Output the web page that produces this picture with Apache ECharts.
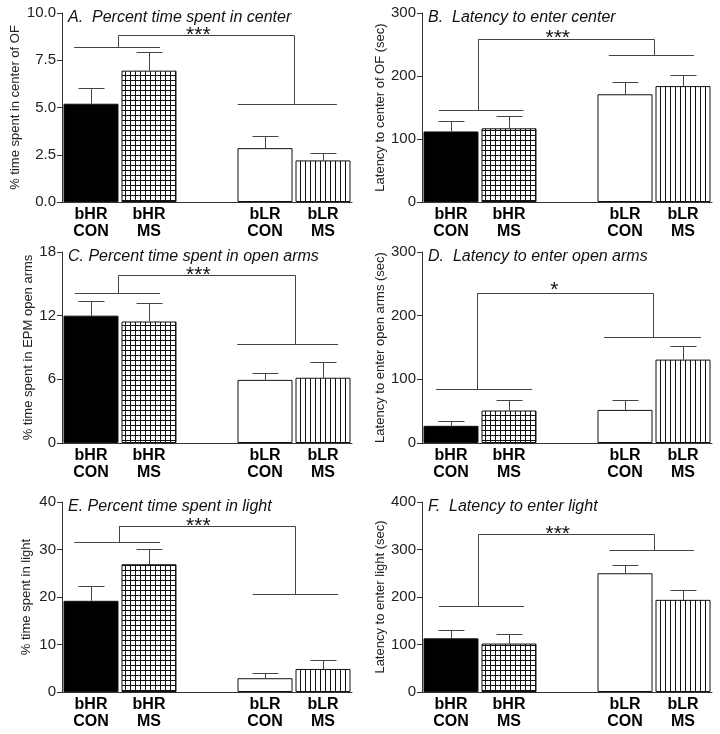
<!DOCTYPE html>
<html><head><meta charset="utf-8">
<script src="https://cdn.jsdelivr.net/npm/echarts@6/dist/echarts.min.js"></script>
<style>html,body{margin:0;padding:0;background:#fff}#c{width:720px;height:734px}</style>
</head><body><div id="c"></div>
<script>
// ---------- data ----------
const categories = ['bHR\nCON', 'bHR\nMS', '', 'bLR\nCON', 'bLR\nMS'];
const panelTitles = [
  'A.  Percent time spent in center',
  'B.  Latency to enter center',
  'C. Percent time spent in open arms',
  'D.  Latency to enter open arms',
  'E. Percent time spent in light',
  'F.  Latency to enter light'
];
const yNames = [
  '% time spent in center of OF',
  'Latency to center of OF (sec)',
  '% time spent in EPM open arms',
  'Latency to enter open arms (sec)',
  '% time spent in light',
  'Latency to enter light (sec)'
];
const yMax = [10, 300, 18, 300, 40, 400];
const yStep = [2.5, 100, 6, 100, 10, 100];

// means for bHR CON, bHR MS, (gap), bLR CON, bLR MS
const meanA = [5.2, 6.95, '-', 2.85, 2.2];
const semA  = [0.85, 1.0, 0, 0.65, 0.4];
const meanB = [112, 117, '-', 171, 184];
const semB  = [17, 19, 0, 20, 18];
const meanC = [12.0, 11.45, '-', 5.95, 6.15];
const semC  = [1.4, 1.75, 0, 0.65, 1.5];
const meanD = [27, 51, '-', 52, 131];
const semD  = [8, 16, 0, 16, 21];
const meanE = [19.2, 26.9, '-', 2.9, 4.85];
const semE  = [3.2, 3.3, 0, 1.1, 1.8];
const meanF = [113, 102, '-', 250, 194];
const semF  = [18, 21, 0, 17, 21];

// significance brackets: [hrY, hrX1, hrX2, topY, topX1, topX2, lrY, lrX1, lrX2, starX, starY, label]
const bracketA = [8.19, -0.29, 1.19, 8.84, 0.47, 3.5, 5.18, 2.53, 4.24, 1.85, 9.02, '***'];
const bracketB = [146, -0.21, 1.25, 259, 0.47, 3.5, 234, 2.72, 4.19, 1.84, 265.8, '***'];
const bracketC = [14.17, -0.28, 1.19, 15.8, 0.47, 3.52, 9.3, 2.52, 4.26, 1.85, 16.2, '***'];
const bracketD = [84.8, -0.26, 1.40, 235.7, 0.45, 3.49, 166, 2.64, 4.31, 1.78, 247, '*'];
const bracketE = [31.5, -0.29, 1.19, 35, 0.48, 3.52, 20.6, 2.79, 4.26, 1.85, 35.85, '***'];
const bracketF = [181.8, -0.21, 1.26, 332, 0.47, 3.5, 298.7, 2.73, 4.19, 1.84, 339.6, '***'];

const means = [meanA, meanB, meanC, meanD, meanE, meanF];
const sems = [semA, semB, semC, semD, semE, semF];
const brackets = [bracketA, bracketB, bracketC, bracketD, bracketE, bracketF];

// ---------- styling ----------
const FONT = "'Liberation Sans', Arial, Helvetica, sans-serif";
const LINE = '#444';
const gridLeft = [62, 422];
const gridTop = [13, 252, 502];
const gridH = [189, 191, 190];
const gridW = 290;
const nameGaps = [40, 32, 27, 32, 29, 33];

function makePattern(grid) {
  const c = document.createElement('canvas');
  c.width = 5; c.height = 5;
  const g = c.getContext('2d');
  g.fillStyle = '#fff'; g.fillRect(0, 0, 5, 5);
  g.fillStyle = '#111';
  g.fillRect(0, 0, 1, 5);
  if (grid) g.fillRect(0, 0, 5, 1);
  return c;
}
const gridPat = { image: makePattern(true), repeat: 'repeat' };
const stripePat = { image: makePattern(false), repeat: 'repeat' };
const barFills = ['#000', gridPat, '#fff', '#fff', stripePat];

const px = v => Math.round(v) + 0.5;

const grids = [], xAxes = [], yAxes = [], series = [], titles = [];
for (let i = 0; i < 6; i++) {
  const col = i % 2, row = Math.floor(i / 2);
  grids.push({ left: gridLeft[col], top: gridTop[row], width: gridW, height: gridH[row] });
  titles.push({
    text: panelTitles[i], left: gridLeft[col] + 6, top: gridTop[row] - 3, padding: 0,
    textStyle: { fontFamily: FONT, fontSize: 16, fontStyle: 'italic', fontWeight: 'normal', color: '#111' }
  });
  xAxes.push({
    type: 'category', gridIndex: i, data: categories,
    axisLine: { onZero: false, lineStyle: { color: '#333', width: 1 } },
    axisTick: { show: false },
    axisLabel: { interval: 0, fontFamily: FONT, fontSize: 16, fontWeight: 'bold', color: '#000', lineHeight: 17, margin: 4 }
  });
  yAxes.push({
    type: 'value', gridIndex: i, min: 0, max: yMax[i], interval: yStep[i],
    name: yNames[i], nameLocation: 'middle', nameRotate: 90, nameGap: nameGaps[i],
    nameTextStyle: { fontFamily: FONT, fontSize: 13, color: '#222' },
    axisLine: { show: true, onZero: false, lineStyle: { color: '#333', width: 1 } },
    axisTick: { show: true, length: 5, lineStyle: { color: '#333' } },
    splitLine: { show: false },
    axisLabel: {
      fontFamily: FONT, fontSize: 15, color: '#222', margin: 6,
      formatter: v => (yStep[i] % 1 !== 0 ? v.toFixed(1) : String(v))
    }
  });
}
// hidden value x axes for annotations
for (let i = 0; i < 6; i++) {
  xAxes.push({ type: 'value', gridIndex: i, min: -0.5, max: 4.5, show: false });
}

for (let i = 0; i < 6; i++) {
  series.push({
    type: 'bar', xAxisIndex: i, yAxisIndex: i, barWidth: 55, silent: true,
    data: means[i].map((v, k) => ({
      value: v,
      itemStyle: { color: barFills[k], borderColor: '#111', borderWidth: 1 }
    }))
  });
  const errData = [];
  means[i].forEach((v, k) => { if (v !== '-') errData.push([k, v, sems[i][k]]); });
  series.push({
    type: 'custom', xAxisIndex: 6 + i, yAxisIndex: i, silent: true, z: 3,
    data: errData,
    renderItem: (params, api) => {
      const x = api.value(0), m = api.value(1), e = api.value(2);
      const p0 = api.coord([x, m]), p1 = api.coord([x, m + e]);
      const st = { stroke: LINE, lineWidth: 1 };
      return {
        type: 'group', children: [
          { type: 'line', shape: { x1: px(p0[0]), y1: p0[1], x2: px(p0[0]), y2: px(p1[1]) }, style: st },
          { type: 'line', shape: { x1: px(p1[0]) - 13, y1: px(p1[1]), x2: px(p1[0]) + 13, y2: px(p1[1]) }, style: st }
        ]
      };
    }
  });
  const b = brackets[i];
  series.push({
    type: 'custom', xAxisIndex: 6 + i, yAxisIndex: i, silent: true, z: 4,
    data: [[0, 0]],
    renderItem: (params, api) => {
      const c = (x, y) => api.coord([x, y]);
      const h1 = c(b[1], b[0]), h2 = c(b[2], b[0]);
      const t1 = c(b[4], b[3]), t2 = c(b[5], b[3]);
      const l1 = c(b[7], b[6]), l2 = c(b[8], b[6]);
      const s = c(b[9], b[10]);
      const st = { stroke: LINE, lineWidth: 1 };
      const ln = (x1, y1, x2, y2) => ({ type: 'line', shape: { x1, y1, x2, y2 }, style: st });
      return {
        type: 'group', children: [
          ln(h1[0], px(h1[1]), h2[0], px(h1[1])),
          ln(l1[0], px(l1[1]), l2[0], px(l1[1])),
          ln(t1[0], px(t1[1]), px(t2[0]), px(t1[1])),
          ln(px(t1[0]), px(t1[1]), px(t1[0]), px(h1[1])),
          ln(px(t2[0]), px(t1[1]), px(t2[0]), px(l1[1])),
          { type: 'text', x: s[0], y: s[1] + 4,
            style: { text: b[11], fontFamily: FONT, fontSize: 21, fill: '#111', align: 'center', verticalAlign: 'middle' } }
        ]
      };
    }
  });
}

const chart = echarts.init(document.getElementById('c'), null, { renderer: 'canvas' });
chart.setOption({
  animation: false, backgroundColor: '#fff',
  title: titles, grid: grids, xAxis: xAxes, yAxis: yAxes, series: series
});
</script></body></html>
